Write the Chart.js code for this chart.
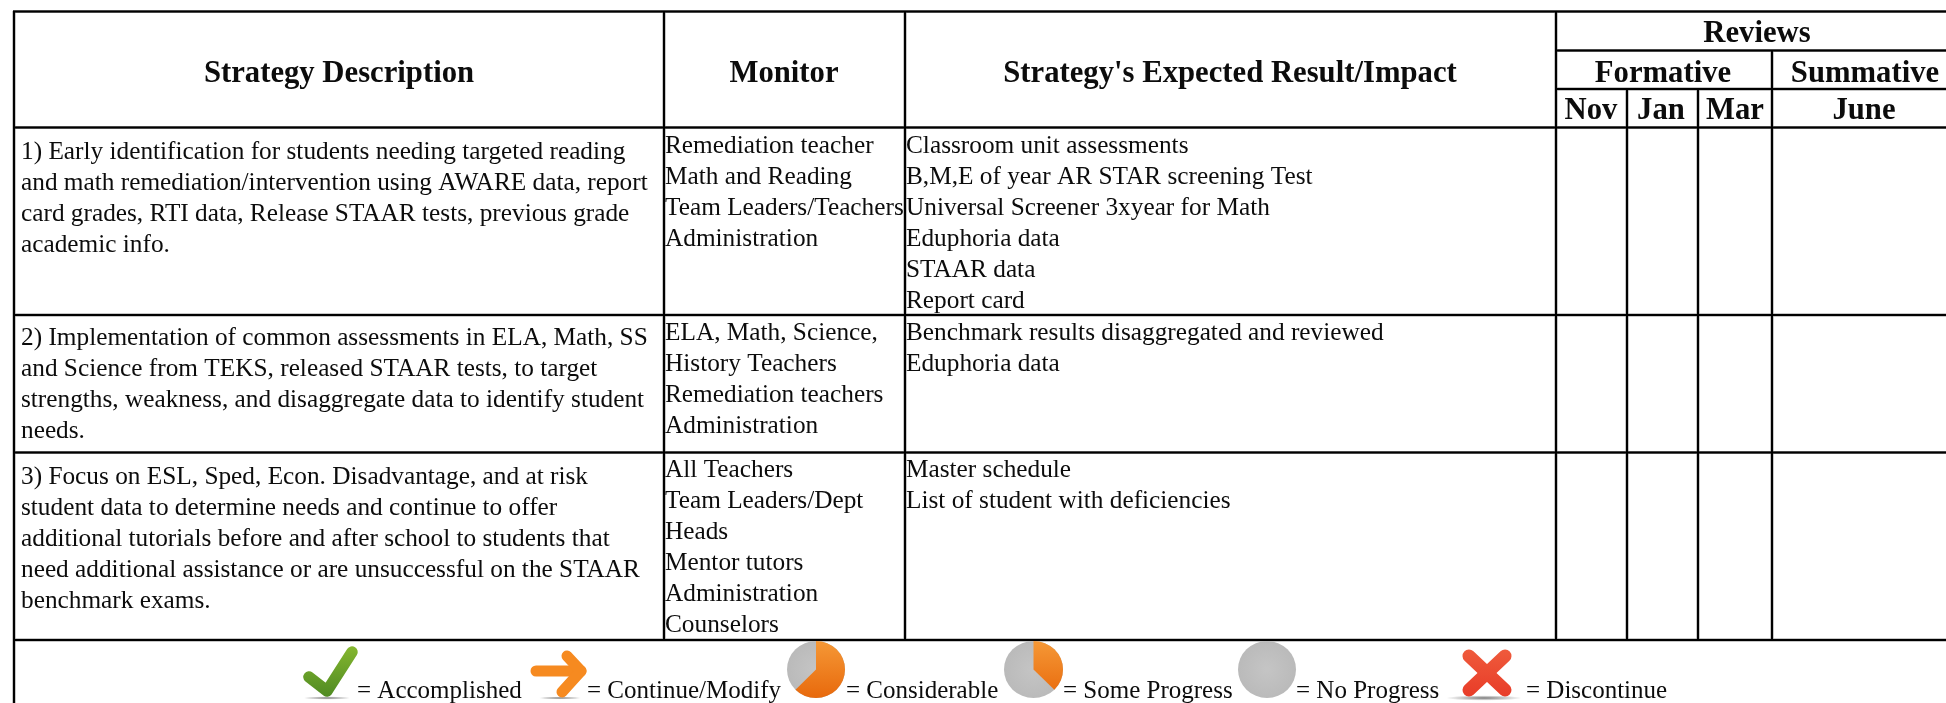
<!DOCTYPE html>
<html>
<head>
<meta charset="utf-8">
<title>Strategy table</title>
<script src="https://cdn.jsdelivr.net/npm/chart.js@4/dist/chart.umd.min.js"></script>
<style>
  html, body { margin: 0; padding: 0; background: #fff; overflow: hidden; }
  canvas { display: block; }
</style>
</head>
<body>
<canvas id="tabela" width="1946" height="703"></canvas>
<script>
// Conteudo da tabela
const headerLabels = ['Strategy Description', 'Monitor', "Strategy's Expected Result/Impact", 'Reviews', 'Formative', 'Summative', 'Nov', 'Jan', 'Mar', 'June'];

const strategyRows = [
  ['1) Early identification for students needing targeted reading',
   'and math remediation/intervention using AWARE data, report',
   'card grades, RTI data, Release STAAR tests, previous grade',
   'academic info.'],
  ['2) Implementation of common assessments in ELA, Math, SS',
   'and Science from TEKS, released STAAR tests, to target',
   'strengths, weakness, and disaggregate data to identify student',
   'needs.'],
  ['3) Focus on ESL, Sped, Econ. Disadvantage, and at risk',
   'student data to determine needs and continue to offer',
   'additional tutorials before and after school to students that',
   'need additional assistance or are unsuccessful on the STAAR',
   'benchmark exams.']
];

const monitorRows = [
  ['Remediation teacher', 'Math and Reading', 'Team Leaders/Teachers', 'Administration'],
  ['ELA, Math, Science,', 'History Teachers', 'Remediation teachers', 'Administration'],
  ['All Teachers', 'Team Leaders/Dept', 'Heads', 'Mentor tutors', 'Administration', 'Counselors']
];

const resultRows = [
  ['Classroom unit assessments', 'B,M,E of year AR STAR screening Test', 'Universal Screener 3xyear for Math', 'Eduphoria data', 'STAAR data', 'Report card'],
  ['Benchmark results disaggregated and reviewed', 'Eduphoria data'],
  ['Master schedule', 'List of student with deficiencies']
];

const legendLabels = ['= Accomplished', '= Continue/Modify', '= Considerable', '= Some Progress', '= No Progress', '= Discontinue'];
const legendIcons = ['check', 'arrow', 'pie', 'pie', 'pie', 'cross'];
const pieOrangeShare = [0, 0, 0.625, 0.375, 0, 0];

// Geometria (pixels da imagem, usados como valores das escalas)
const W = 1946, H = 703;
const vRules = [
  { x: 14, y0: 11, y1: 703 },
  { x: 664, y0: 11, y1: 640 },
  { x: 905, y0: 11, y1: 640 },
  { x: 1556, y0: 11, y1: 640 },
  { x: 1772, y0: 50, y1: 640 },
  { x: 1627, y0: 89, y1: 640 },
  { x: 1698, y0: 89, y1: 640 }
];
const hRules = [
  { y: 11.5, x0: 13, x1: W },
  { y: 50.5, x0: 1556, x1: W },
  { y: 89, x0: 1556, x1: W },
  { y: 127.5, x0: 13, x1: W },
  { y: 315, x0: 13, x1: W },
  { y: 452.5, x0: 13, x1: W },
  { y: 640, x0: 13, x1: W }
];
const headerX = [339, 784, 1230, 1757, 1663, 1865, 1591, 1661, 1735, 1864];
const headerY = [74, 74, 74, 34, 74, 74, 111, 111, 111, 111];
const strategyFirstLine = [152, 338.5, 477];
const cellFirstLine = [146, 333.5, 470.5];
const linePitch = 31;
const legendTextX = [357, 587, 846, 1063, 1296, 1526];
const legendBaseline = 698;
const pieBoxes = { 2: [787, 641, 845, 698], 3: [1004, 641, 1063, 698], 4: [1238, 641, 1296, 698] };
const checkPath = [[309, 677], [327, 691], [352, 652]];
const arrowBar = [[536, 671], [581, 671]];
const arrowHead = [[567, 656], [581, 671], [562, 692]];
const crossArms = [[[1469, 656], [1505, 690]], [[1505, 656], [1469, 690]]];
const shadows = { check: [327, 698, 24], arrow: [560, 698, 22], cross: [1484, 698, 38] };

const INK = '#0c0c0c';
const BODY_FONT = '25.3px "Liberation Serif"';
const HEAD_FONT = 'bold 30.7px "Liberation Serif"';
const LEGEND_FONT = '25px "Liberation Serif"';

function ruleDataset(points, color, width) {
  return {
    data: points,
    borderColor: color,
    borderWidth: width,
    pointRadius: 0,
    showLine: true,
    tension: 0,
    clip: false
  };
}

// Cada fio tem um halo cinza e um nucleo preto. O Chart.js desenha o primeiro dataset por cima.
const rulePoints = [
  ...vRules.map(r => [{ x: r.x, y: r.y0 }, { x: r.x, y: r.y1 }]),
  ...hRules.map(r => [{ x: r.x0, y: r.y }, { x: r.x1, y: r.y }])
];
const ruleDatasets = [
  ...rulePoints.map(p => ruleDataset(p, '#000000', 2)),
  ...rulePoints.map(p => ruleDataset(p, '#8f8f8f', 3))
];

function strokePath(ctx, path, px, py) {
  ctx.beginPath();
  path.forEach((p, i) => ctx[i ? 'lineTo' : 'moveTo'](px(p[0]), py(p[1])));
  ctx.stroke();
}

function softShadow(ctx, cx, cy, rx) {
  const g = ctx.createRadialGradient(cx, cy, 0, cx, cy, rx);
  g.addColorStop(0, 'rgba(90,90,90,.8)');
  g.addColorStop(1, 'rgba(90,90,90,0)');
  ctx.save();
  ctx.translate(cx, cy);
  ctx.scale(1, 0.07);
  ctx.translate(-cx, -cy);
  ctx.fillStyle = g;
  ctx.beginPath();
  ctx.arc(cx, cy, rx, 0, Math.PI * 2);
  ctx.fill();
  ctx.restore();
}

function drawCheck(ctx, px, py) {
  softShadow(ctx, px(shadows.check[0]), py(shadows.check[1]), shadows.check[2]);
  const g = ctx.createLinearGradient(0, py(647), 0, py(697));
  g.addColorStop(0, '#84b62f');
  g.addColorStop(1, '#4f8a22');
  ctx.strokeStyle = g;
  ctx.lineWidth = 11.5;
  ctx.lineCap = 'round';
  ctx.lineJoin = 'round';
  strokePath(ctx, checkPath, px, py);
}

function drawArrow(ctx, px, py) {
  softShadow(ctx, px(shadows.arrow[0]), py(shadows.arrow[1]), shadows.arrow[2]);
  ctx.strokeStyle = '#f68a20';
  ctx.lineWidth = 11;
  ctx.lineCap = 'round';
  ctx.lineJoin = 'round';
  strokePath(ctx, arrowBar, px, py);
  strokePath(ctx, arrowHead, px, py);
}

function drawPie(ctx, b, share) {
  const cx = (b[0] + b[2]) / 2, cy = (b[1] + b[3]) / 2;
  const rx = (b[2] - b[0]) / 2, ry = (b[3] - b[1]) / 2;
  const gray = ctx.createRadialGradient(cx, cy, 2, cx, cy, rx);
  gray.addColorStop(0, '#c4c4c4');
  gray.addColorStop(1, '#bababa');
  ctx.fillStyle = gray;
  ctx.beginPath();
  ctx.ellipse(cx, cy, rx, ry, 0, 0, Math.PI * 2);
  ctx.fill();
  if (!share) return;
  const org = ctx.createLinearGradient(cx, b[1], cx, b[3]);
  org.addColorStop(0, '#f59836');
  org.addColorStop(1, '#e8690c');
  ctx.fillStyle = org;
  ctx.beginPath();
  ctx.moveTo(cx, cy);
  ctx.ellipse(cx, cy, rx, ry, 0, -Math.PI / 2, -Math.PI / 2 + share * Math.PI * 2);
  ctx.closePath();
  ctx.fill();
}

function drawCross(ctx, px, py) {
  softShadow(ctx, px(shadows.cross[0]), py(shadows.cross[1]), shadows.cross[2]);
  const g = ctx.createLinearGradient(0, py(649), 0, py(696));
  g.addColorStop(0, '#ef5b3c');
  g.addColorStop(1, '#e83c28');
  ctx.strokeStyle = g;
  ctx.lineWidth = 13;
  ctx.lineCap = 'round';
  crossArms.forEach(arm => strokePath(ctx, arm, px, py));
}

const tableTextPlugin = {
  id: 'tableText',
  afterDatasetsDraw(chart) {
    const { ctx, scales: { x, y } } = chart;
    const px = v => x.getPixelForValue(v);
    const py = v => y.getPixelForValue(v);
    ctx.save();
    ctx.fillStyle = INK;
    ctx.textBaseline = 'middle';

    ctx.font = HEAD_FONT;
    ctx.textAlign = 'center';
    headerLabels.forEach((t, i) => ctx.fillText(t, px(headerX[i]), py(headerY[i])));

    ctx.font = BODY_FONT;
    ctx.textAlign = 'left';
    strategyRows.forEach((lines, r) => lines.forEach((t, i) => ctx.fillText(t, px(21), py(strategyFirstLine[r] + i * linePitch))));
    monitorRows.forEach((lines, r) => lines.forEach((t, i) => ctx.fillText(t, px(665), py(cellFirstLine[r] + i * linePitch))));
    resultRows.forEach((lines, r) => lines.forEach((t, i) => ctx.fillText(t, px(906), py(cellFirstLine[r] + i * linePitch))));

    ctx.font = LEGEND_FONT;
    ctx.textBaseline = 'alphabetic';
    legendLabels.forEach((t, i) => ctx.fillText(t, px(legendTextX[i]), py(legendBaseline)));
    ctx.restore();

    legendIcons.forEach((kind, i) => {
      ctx.save();
      ctx.filter = 'blur(0.7px)';
      if (kind === 'check') drawCheck(ctx, px, py);
      else if (kind === 'arrow') drawArrow(ctx, px, py);
      else if (kind === 'pie') drawPie(ctx, pieBoxes[i].map((v, k) => k % 2 ? py(v) : px(v)), pieOrangeShare[i]);
      else drawCross(ctx, px, py);
      ctx.restore();
    });
  }
};

new Chart(document.getElementById('tabela').getContext('2d'), {
  type: 'scatter',
  data: { datasets: ruleDatasets },
  options: {
    responsive: false,
    animation: false,
    layout: { padding: 0 },
    events: [],
    plugins: { legend: { display: false }, tooltip: { enabled: false } },
    scales: {
      x: { type: 'linear', min: 0, max: W, display: false },
      y: { type: 'linear', min: 0, max: H, reverse: true, display: false }
    }
  },
  plugins: [tableTextPlugin]
});
</script>
</body>
</html>
